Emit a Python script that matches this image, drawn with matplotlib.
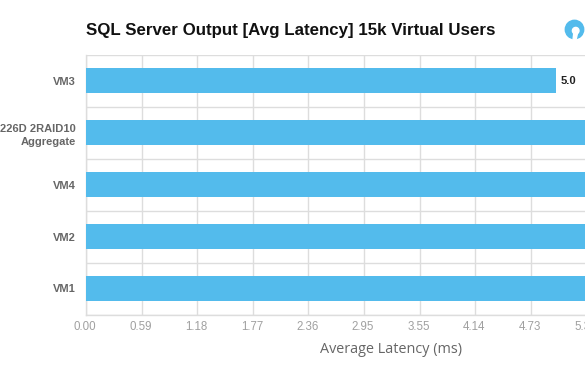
import matplotlib
matplotlib.use("Agg")
import matplotlib.pyplot as plt
from matplotlib.patches import Circle, Polygon
from matplotlib.transforms import ScaledTranslation

# values for everything but VM3 run off the crop, so they are estimates
categories = ["VM3", "226D 2RAID10\nAggregate", "VM4", "VM2", "VM1"]
latency = [5.0, 5.4, 5.5, 5.6, 5.7]
tick_values = [0.0, 0.591, 1.182, 1.773, 2.364, 2.955, 3.546, 4.137, 4.728, 5.319, 5.91]
tick_labels = ["0.00", "0.59", "1.18", "1.77", "2.36", "2.95", "3.55", "4.14", "4.73", "5.32", "5.91"]

W, H = 585, 383
BLUE = "#53bbec"

fig = plt.figure(figsize=(W / 100, H / 100), dpi=100)
# the plot area runs past the right edge of the picture, like the cropped original
ax = fig.add_axes([86 / W, 1 - 314.5 / H, (642 - 86) / W, 260 / H])

y = range(len(categories))
ax.barh(y, latency, height=0.475, color=BLUE, zorder=3)
ax.set_xlim(0, 5.91)
ax.set_ylim(len(categories) - 0.5, -0.5)

ax.set_yticks(list(y))
ax.set_yticklabels(categories, fontfamily="Liberation Sans", fontweight="bold",
                   fontsize=8, color="#666666", linespacing=1.4)
ax.set_xticks(tick_values)
ax.set_xticklabels(tick_labels, fontfamily="Liberation Sans", fontsize=8.3, color="#a0a0a0")
ax.tick_params(axis="both", length=0)
ax.tick_params(axis="x", pad=5)
ax.tick_params(axis="y", pad=7.5)

# x labels sit a touch left of their grid lines
nudge = ScaledTranslation(-1 / 100, 0, fig.dpi_scale_trans)
for label in ax.get_xticklabels():
    label.set_transform(label.get_transform() + nudge)

# horizontal lines sit between the rows
ax.set_yticks([i + 0.5 for i in range(-1, len(categories))], minor=True)
ax.tick_params(axis="y", which="minor", length=0)
ax.grid(axis="x", color="#dddddd", linewidth=1, zorder=0)
ax.grid(axis="y", which="minor", color="#dddddd", linewidth=1, zorder=0)
ax.set_axisbelow(True)
for name, spine in ax.spines.items():
    spine.set_visible(name in ("left", "bottom"))
    spine.set_color("#dddddd")
    spine.set_linewidth(1.0)

# only the VM3 label falls inside the crop
ax.text(latency[0] + 0.05, 0, f"{latency[0]:.1f}", va="center", ha="left",
        fontfamily="Liberation Sans", fontweight="bold", fontsize=8, color="#222222")

fig.text(86 / W, 1 - 30 / H, "SQL Server Output [Avg Latency] 15k Virtual Users",
         fontfamily="Liberation Sans", fontweight="bold", fontsize=12.15, color="#111111",
         ha="left", va="center")
fig.text(390.5 / W, 1 - 349.5 / H, "Average Latency (ms)", fontfamily="Open Sans",
         fontsize=10.4, color="#666666", ha="center", va="center")

# small round logo, top right
logo = fig.add_axes([0, 0, 1, 1], facecolor="none")
logo.set_xlim(0, W)
logo.set_ylim(H, 0)
logo.axis("off")
logo.add_patch(Circle((574.5, 29.5), 9.2, color=BLUE))
logo.add_patch(Polygon([(574, 31), (578, 31), (576, 40), (573, 40)], color="white"))
logo.add_patch(Circle((575.7, 30.7), 3.3, color="white"))

fig.savefig("out.png", dpi=100)
